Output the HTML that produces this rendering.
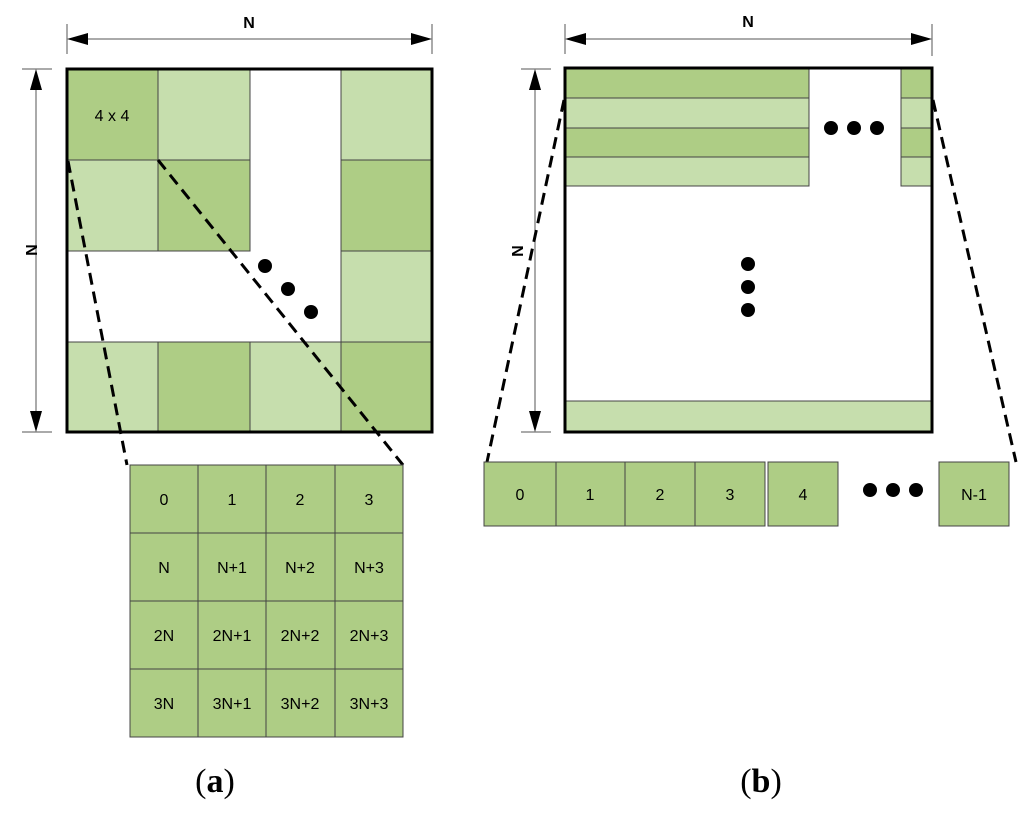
<!DOCTYPE html>
<html><head><style>body{margin:0;background:#fff}</style></head><body>
<svg width="1024" height="815" xmlns="http://www.w3.org/2000/svg" font-family="Liberation Sans, Arial, sans-serif">
<defs><marker id="ar" markerWidth="10" markerHeight="8" refX="10" refY="4" orient="auto" markerUnits="userSpaceOnUse"><path d="M0,0L22,4L0,8z" transform="scale(0.9,1)" fill="#000"/></marker>
<marker id="a2" viewBox="0 0 20 12" markerWidth="20" markerHeight="12" refX="20" refY="6" orient="auto" markerUnits="userSpaceOnUse"><path d="M0,0L20,6L0,12z" fill="#000"/></marker></defs>
<g stroke="#444" stroke-width="1">
<!-- left matrix cells -->
<rect x="67" y="69" width="91" height="91" fill="#aecd85"/>
<rect x="158" y="69" width="92" height="91" fill="#c6dead"/>
<rect x="341" y="69" width="91" height="91" fill="#c6dead"/>
<rect x="67" y="160" width="91" height="91" fill="#c6dead"/>
<rect x="158" y="160" width="92" height="91" fill="#aecd85"/>
<rect x="341" y="160" width="91" height="91" fill="#aecd85"/>
<rect x="341" y="251" width="91" height="91" fill="#c6dead"/>
<rect x="67" y="342" width="91" height="90" fill="#c6dead"/>
<rect x="158" y="342" width="92" height="90" fill="#aecd85"/>
<rect x="250" y="342" width="91" height="90" fill="#c6dead"/>
<rect x="341" y="342" width="91" height="90" fill="#aecd85"/>
</g>
<rect x="67" y="69" width="365" height="363" fill="none" stroke="#000" stroke-width="3"/>
<text x="112" y="121" font-size="16" text-anchor="middle">4 x 4</text>
<circle cx="265" cy="266" r="7"/><circle cx="288" cy="289" r="7"/><circle cx="311" cy="312" r="7"/>
<!-- left dims -->
<g stroke="#555" stroke-width="1"><line x1="67" y1="24" x2="67" y2="54"/><line x1="432" y1="24" x2="432" y2="54"/>
<line x1="22" y1="69" x2="52" y2="69"/><line x1="22" y1="432" x2="52" y2="432"/></g>
<line x1="88" y1="39" x2="411" y2="39" stroke="#555"/>
<path d="M67,39L88,33L88,45z M432,39L411,33L411,45z"/>
<line x1="36" y1="90" x2="36" y2="411" stroke="#555"/>
<path d="M36,69L30,90L42,90z M36,432L30,411L42,411z"/>
<text x="249" y="28" font-size="16" font-weight="bold" text-anchor="middle">N</text>
<text x="0" y="0" font-size="16" font-weight="bold" text-anchor="middle" transform="translate(26,250) rotate(90)">N</text>
<!-- left dashed -->
<g stroke="#000" stroke-width="3" stroke-dasharray="12,7"><line x1="68" y1="161" x2="127" y2="465"/><line x1="158" y1="160" x2="403" y2="465"/></g>
<!-- left grid -->
<g stroke="#444" stroke-width="1" fill="#aecd85">
<rect x="130" y="465" width="273" height="272"/>
<line x1="198" y1="465" x2="198" y2="737"/><line x1="266" y1="465" x2="266" y2="737"/><line x1="335" y1="465" x2="335" y2="737"/>
<line x1="130" y1="533" x2="403" y2="533"/><line x1="130" y1="601" x2="403" y2="601"/><line x1="130" y1="669" x2="403" y2="669"/>
</g>
<g font-size="16" text-anchor="middle">
<text x="164" y="505">0</text><text x="232" y="505">1</text><text x="300" y="505">2</text><text x="369" y="505">3</text>
<text x="164" y="573">N</text><text x="232" y="573">N+1</text><text x="300" y="573">N+2</text><text x="369" y="573">N+3</text>
<text x="164" y="641">2N</text><text x="232" y="641">2N+1</text><text x="300" y="641">2N+2</text><text x="369" y="641">2N+3</text>
<text x="164" y="709">3N</text><text x="232" y="709">3N+1</text><text x="300" y="709">3N+2</text><text x="369" y="709">3N+3</text>
</g>
<!-- right matrix -->
<g stroke="#444" stroke-width="1">
<rect x="565" y="68" width="244" height="30" fill="#aecd85"/>
<rect x="565" y="98" width="244" height="30" fill="#c6dead"/>
<rect x="565" y="128" width="244" height="29" fill="#aecd85"/>
<rect x="565" y="157" width="244" height="29" fill="#c6dead"/>
<rect x="901" y="68" width="31" height="30" fill="#aecd85"/>
<rect x="901" y="98" width="31" height="30" fill="#c6dead"/>
<rect x="901" y="128" width="31" height="29" fill="#aecd85"/>
<rect x="901" y="157" width="31" height="29" fill="#c6dead"/>
<rect x="565" y="401" width="367" height="31" fill="#c6dead"/>
</g>
<rect x="565" y="68" width="367" height="364" fill="none" stroke="#000" stroke-width="3"/>
<circle cx="831" cy="128" r="7"/><circle cx="854" cy="128" r="7"/><circle cx="877" cy="128" r="7"/>
<circle cx="748" cy="264" r="7"/><circle cx="748" cy="287" r="7"/><circle cx="748" cy="310" r="7"/>
<g stroke="#555" stroke-width="1"><line x1="565" y1="24" x2="565" y2="54"/><line x1="932" y1="24" x2="932" y2="56"/>
<line x1="521" y1="69" x2="551" y2="69"/><line x1="521" y1="432" x2="551" y2="432"/></g>
<line x1="586" y1="39" x2="911" y2="39" stroke="#555"/>
<path d="M565,39L586,33L586,45z M932,39L911,33L911,45z"/>
<line x1="535" y1="90" x2="535" y2="411" stroke="#555"/>
<path d="M535,69L529,90L541,90z M535,432L529,411L541,411z"/>
<text x="748" y="27" font-size="16" font-weight="bold" text-anchor="middle">N</text>
<text x="0" y="0" font-size="16" font-weight="bold" text-anchor="middle" transform="translate(512,251) rotate(90)">N</text>
<g stroke="#000" stroke-width="3" stroke-dasharray="12,7"><line x1="564" y1="100" x2="487" y2="462"/><line x1="933" y1="100" x2="1016" y2="462"/></g>
<g stroke="#444" stroke-width="1" fill="#aecd85">
<rect x="484" y="462" width="72" height="64"/><rect x="556" y="462" width="69" height="64"/><rect x="625" y="462" width="70" height="64"/><rect x="695" y="462" width="70" height="64"/>
<rect x="768" y="462" width="70" height="64"/><rect x="939" y="462" width="70" height="64"/>
</g>
<g font-size="16" text-anchor="middle">
<text x="520" y="500">0</text><text x="590" y="500">1</text><text x="660" y="500">2</text><text x="730" y="500">3</text><text x="803" y="500">4</text><text x="974" y="500">N-1</text>
</g>
<circle cx="870" cy="490" r="7"/><circle cx="893" cy="490" r="7"/><circle cx="916" cy="490" r="7"/>
<g font-family="Liberation Serif, serif" font-size="34" text-anchor="middle"><text x="215" y="792">(<tspan font-weight="bold">a</tspan>)</text><text x="761" y="792">(<tspan font-weight="bold">b</tspan>)</text></g>
</svg>
</body></html>
